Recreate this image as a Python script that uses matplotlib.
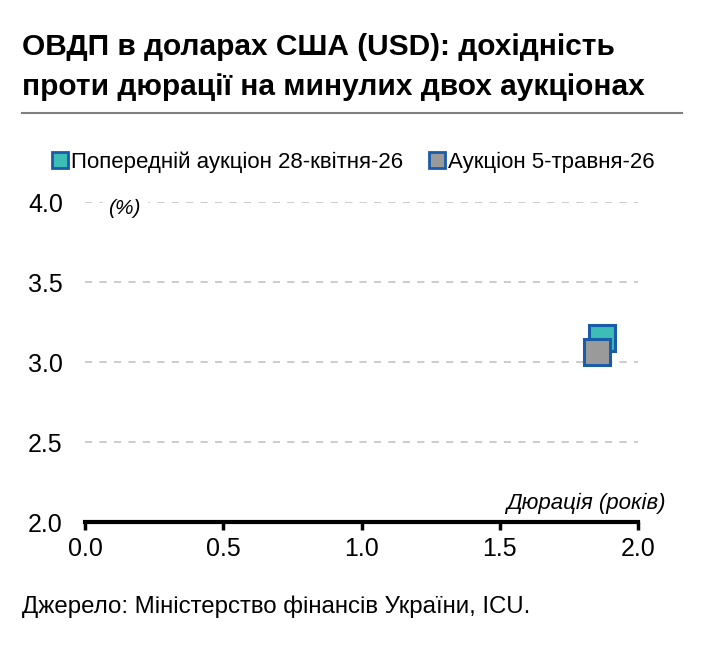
import matplotlib.pyplot as plt
from matplotlib.lines import Line2D

plt.rcParams['font.family'] = ['Liberation Sans Narrow', 'Liberation Sans', 'DejaVu Sans']

# дані
series_names = ['Попередній аукціон 28-квітня-26', 'Аукціон 5-травня-26']
duration = [1.870, 1.853]
yield_pct = [3.15, 3.06]
fill_colors = ['#3cbdb6', '#9a9a9a']
edge_color = '#1b5ca8'

x_ticks = [0.0, 0.5, 1.0, 1.5, 2.0]
y_ticks = [2.0, 2.5, 3.0, 3.5, 4.0]

fig = plt.figure(figsize=(7.05, 6.48), dpi=100)
ax = fig.add_axes([85 / 705, 1 - 522 / 648, (638 - 85) / 705, (522 - 202) / 648])

for x, y, c in zip(duration, yield_pct, fill_colors):
    ax.plot([x], [y], marker='s', markersize=18.5, markerfacecolor=c,
            markeredgecolor=edge_color, markeredgewidth=2.2, linestyle='none',
            zorder=5, clip_on=False)

ax.set_xlim(0, 2.0)
ax.set_ylim(2.0, 4.0)
ax.set_xticks(x_ticks)
ax.set_xticklabels([f'{v:.1f}' for v in x_ticks])
ax.set_yticks(y_ticks)
ax.set_yticklabels([f'{v:.1f}' for v in y_ticks])

for v in y_ticks[1:]:
    ax.axhline(v, color='#c8c8c8', linestyle=(0, (4, 4)), linewidth=1.3, zorder=1)

for s in ['top', 'right', 'left']:
    ax.spines[s].set_visible(False)
ax.spines['bottom'].set_linewidth(3)
ax.tick_params(axis='x', length=6, width=2.5, labelsize=18, pad=5)
ax.tick_params(axis='y', length=0, labelsize=18, pad=16)

ax.text(0.085, 3.9, '(%)', fontsize=15, style='italic', ha='left', va='bottom',
        backgroundcolor='white', zorder=3)
ax.text(2.1, 2.05, 'Дюрація (років)', fontsize=16, style='italic',
        ha='right', va='bottom', zorder=3)

# заголовок
fig.text(22 / 705, 1 - 47 / 648, 'ОВДП в доларах США (USD): дохідність',
         fontsize=21.5, fontweight='bold', va='center', ha='left')
fig.text(22 / 705, 1 - 87 / 648, 'проти дюрації на минулих двох аукціонах',
         fontsize=21.5, fontweight='bold', va='center', ha='left')
fig.add_artist(Line2D([22 / 705, 682 / 705], [1 - 113 / 648, 1 - 113 / 648],
                      color='#808080', linewidth=1.5))

# легенда
handles = [Line2D([], [], marker='s', markersize=11.5, markerfacecolor=c,
                  markeredgecolor=edge_color, markeredgewidth=2, linestyle='none')
           for c in fill_colors]
fig.legend(handles, series_names, loc='center left',
           bbox_to_anchor=(40 / 705, 1 - 162 / 648), ncol=2, frameon=False,
           fontsize=16, handletextpad=0.0, columnspacing=1.0, handlelength=1.0,
           borderaxespad=0)

fig.text(22 / 705, 1 - 607 / 648, 'Джерело: Міністерство фінансів України, ICU.',
         fontsize=17.3, va='center', ha='left')

plt.savefig('out.png', dpi=100)
